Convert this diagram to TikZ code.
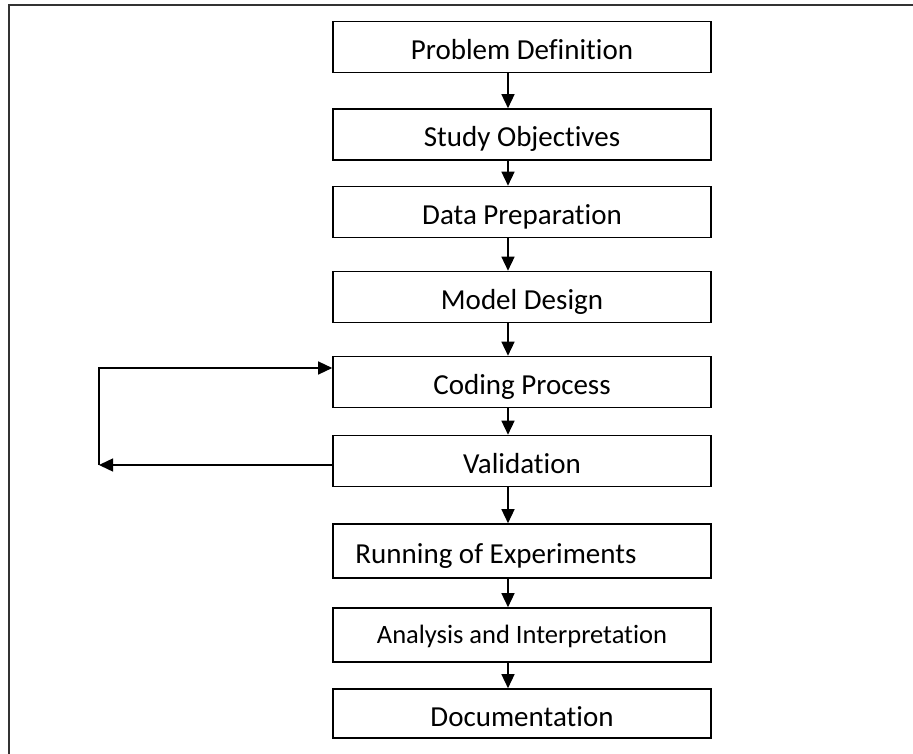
\documentclass[tikz,border=0pt]{standalone}
\usepackage{fontspec}
\setmainfont[Ligatures={NoCommon,NoRequired,NoContextual}]{Carlito}
\usetikzlibrary{arrows.meta}

\begin{document}
\begin{tikzpicture}[x=1pt, y=-1pt, >={Triangle[length=14pt, width=13pt]},
        box node/.style={rectangle, draw, line width=1.6pt, minimum width=378pt, minimum height=51pt,
            inner sep=0pt, text height=25pt, text depth=0pt, font=\fontsize{29}{35}\selectfont},
        link/.style={->, line width=1.4pt}]
    \useasboundingbox (0,0) rectangle (913,754);

    % Ramka
    \draw[line width=1.8pt, black!80] (9,754) -- (9,5) -- (913,5);

    % Etapy
    \node[box node] (1) at (522,47) {Problem Definition};
    \node[box node] (2) at (522,134.5) {Study Objectives};
    \node[box node] (3) at (522,212) {Data Preparation};
    \node[box node] (4) at (522,297) {Model Design};
    \node[box node] (5) at (522,382) {Coding Process};
    \node[box node] (6) at (522,461) {Validation};
    \node[box node, minimum height=54pt] (7) at (522,551) {\hspace*{-52pt}Running of Experiments};
    \node[box node, minimum height=54pt, text height=17pt, font=\fontsize{26.5}{32}\selectfont] (8) at (522,635) {Analysis and Interpretation};
    \node[box node, minimum height=49pt] (9) at (522,713.5) {Documentation};

    % Strzalki
    \path[link] ([xshift=-14pt]1.south) edge ([xshift=-14pt]2.north);
    \path[link] ([xshift=-14pt]2.south) edge ([xshift=-14pt]3.north);
    \path[link] ([xshift=-14pt]3.south) edge ([xshift=-14pt]4.north);
    \path[link] ([xshift=-14pt]4.south) edge ([xshift=-14pt]5.north);
    \path[link] ([xshift=-14pt]5.south) edge ([xshift=-14pt]6.north);
    \path[link] ([xshift=-14pt]6.south) edge ([xshift=-14pt]7.north);
    \path[link] ([xshift=-14pt]7.south) edge ([xshift=-14pt]8.north);
    \path[link] ([xshift=-14pt]8.south) edge ([xshift=-14pt]9.north);

    % Petla zwrotna
    \coordinate (fb) at (99,465);
    \draw[link] ([yshift=-4pt]6.west) -- (fb);
    \draw[link] (fb) |- ([yshift=14pt]5.west);
\end{tikzpicture}
\end{document}
